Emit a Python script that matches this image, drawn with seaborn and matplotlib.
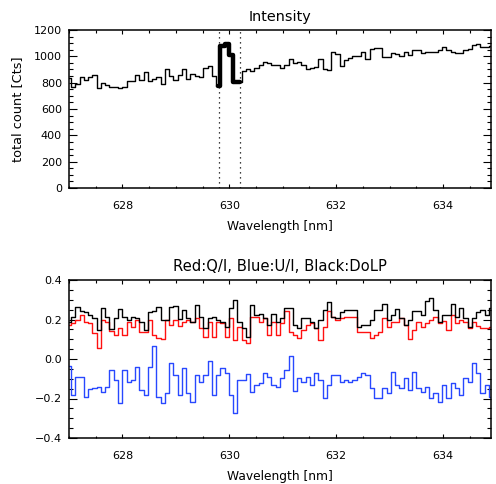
import numpy as np
import pandas as pd
import matplotlib
matplotlib.use("Agg")
import matplotlib.pyplot as plt
from matplotlib.ticker import MultipleLocator, FuncFormatter
import seaborn as sns

# %% data

# wavelength grid of the spectrograph [nm]
wl_first, wl_last, n_bins = 627.0, 634.9, 100
wavelength = np.linspace(wl_first, wl_last, n_bins)

# total count [Cts]
intensity = [
    833, 770, 790, 840, 820, 845, 855, 760, 800, 780,
    770, 765, 760, 770, 810, 812, 860, 820, 880, 815,
    830, 845, 790, 900, 850, 820, 860, 900, 830, 865,
    850, 840, 915, 930, 850, 775, 1075, 1090, 1010, 807,
    805, 885, 901, 891, 909, 934, 959, 947, 934, 934,
    909, 934, 977, 952, 959, 934, 901, 909, 916, 977,
    901, 896, 1035, 1020, 924, 975, 985, 1000, 1003, 1035,
    977, 1053, 1061, 1061, 997, 997, 1023, 1018, 1003, 1035,
    1010, 1048, 1048, 1023, 1035, 1035, 1035, 1048, 1073, 1048,
    1035, 1023, 1023, 1048, 1053, 1086, 1094, 1073, 1073, 1080,
]

# red: Q/I
q_over_i = [
    0.172, 0.181, 0.197, 0.223, 0.189, 0.181, 0.130, 0.054, 0.197, 0.189,
    0.140, 0.122, 0.155, 0.122, 0.189, 0.164, 0.197, 0.138, 0.138, 0.197,
    0.122, 0.105, 0.100, 0.197, 0.172, 0.197, 0.167, 0.189, 0.198, 0.189,
    0.206, 0.155, 0.113, 0.189, 0.113, 0.189, 0.181, 0.113, 0.206, 0.096,
    0.164, 0.096, 0.080, 0.214, 0.214, 0.186, 0.206, 0.122, 0.189, 0.122,
    0.181, 0.243, 0.138, 0.122, 0.108, 0.147, 0.172, 0.181, 0.155, 0.096,
    0.164, 0.243, 0.214, 0.198, 0.206, 0.214, 0.214, 0.214, 0.138, 0.138,
    0.138, 0.108, 0.122, 0.138, 0.206, 0.164, 0.189, 0.189, 0.206, 0.172,
    0.101, 0.147, 0.189, 0.164, 0.181, 0.198, 0.214, 0.181, 0.192, 0.147,
    0.223, 0.181, 0.198, 0.186, 0.155, 0.189, 0.169, 0.155, 0.155, 0.164,
]

# blue: U/I
u_over_i = [
    -0.035, -0.182, -0.089, -0.089, -0.191, -0.154, -0.149, -0.140, -0.165, -0.140,
    -0.056, -0.106, -0.224, -0.056, -0.115, -0.106, -0.039, -0.157, -0.182, -0.039,
    0.066, -0.191, -0.224, -0.174, -0.022, -0.081, -0.182, -0.047, -0.174, -0.216,
    -0.081, -0.115, -0.081, -0.010, -0.182, -0.081, -0.044, -0.073, -0.182, -0.275,
    -0.106, -0.106, -0.077, -0.165, -0.131, -0.123, -0.073, -0.089, -0.131, -0.140,
    -0.098, -0.056, 0.017, -0.162, -0.098, -0.115, -0.089, -0.131, -0.073, -0.106,
    -0.199, -0.131, -0.081, -0.081, -0.115, -0.106, -0.115, -0.106, -0.089, -0.073,
    -0.081, -0.148, -0.199, -0.199, -0.148, -0.174, -0.068, -0.131, -0.148, -0.098,
    -0.157, -0.068, -0.148, -0.165, -0.140, -0.199, -0.174, -0.219, -0.131, -0.199,
    -0.123, -0.148, -0.182, -0.098, -0.115, -0.022, -0.073, -0.174, -0.131, -0.190,
]

# black: DoLP
dolp = [
    0.189, 0.214, 0.265, 0.243, 0.240, 0.223, 0.206, 0.147, 0.257, 0.214,
    0.150, 0.206, 0.251, 0.214, 0.197, 0.214, 0.206, 0.189, 0.147, 0.240,
    0.245, 0.262, 0.197, 0.200, 0.262, 0.268, 0.201, 0.248, 0.206, 0.189,
    0.273, 0.214, 0.155, 0.206, 0.214, 0.198, 0.189, 0.164, 0.257, 0.299,
    0.189, 0.155, 0.113, 0.273, 0.223, 0.226, 0.210, 0.172, 0.226, 0.189,
    0.206, 0.260, 0.257, 0.172, 0.159, 0.206, 0.206, 0.189, 0.155, 0.198,
    0.248, 0.290, 0.214, 0.206, 0.240, 0.248, 0.248, 0.248, 0.164, 0.172,
    0.172, 0.198, 0.248, 0.248, 0.277, 0.198, 0.223, 0.253, 0.206, 0.172,
    0.198, 0.243, 0.243, 0.223, 0.294, 0.307, 0.248, 0.189, 0.223, 0.223,
    0.281, 0.214, 0.257, 0.209, 0.164, 0.206, 0.236, 0.248, 0.223, 0.260,
]

# line window marked with dotted lines [nm]
line_window = [629.8, 630.2]

#%% style

sns.set_style("ticks")
plt.rcParams["font.family"] = ["DejaVu Sans"]
plt.rcParams["axes.edgecolor"] = "black"
plt.rcParams["axes.linewidth"] = 1.1
plt.rcParams["xtick.color"] = "black"
plt.rcParams["ytick.color"] = "black"
plt.rcParams["text.color"] = "black"
plt.rcParams["axes.labelcolor"] = "black"

def minus_fmt(x, pos):
    s = f"{x:.1f}"
    if s == "-0.0":
        s = "0.0"
    return s.replace("-", "\u2212")

def styleAxis(ax):
    ax.set_xlim(wl_first, wl_last)
    ax.xaxis.set_major_locator(MultipleLocator(2))
    ax.xaxis.set_minor_locator(MultipleLocator(0.5))
    ax.tick_params(which="both", direction="in", top=True, right=True, labelsize=8)
    ax.tick_params(axis="x", which="major", length=2.6, width=0.8, pad=9.5)
    ax.tick_params(axis="x", which="minor", length=1.8, width=0.8)
    ax.tick_params(axis="y", which="major", length=6, width=0.8, pad=5)
    ax.tick_params(axis="y", which="minor", length=3, width=0.8)
    ax.set_xlabel("Wavelength [nm]", fontsize=8.8, labelpad=6)

#%% figure

fig = plt.figure(figsize=(4.96, 4.84), dpi=100)
ax1 = fig.add_axes([69/496, 1 - 188/484, 422/496, 158/484])
ax2 = fig.add_axes([69/496, 1 - 438/484, 422/496, 158/484])

spec = pd.DataFrame({"wavelength": wavelength, "intensity": intensity})
sns.lineplot(data=spec, x="wavelength", y="intensity", ax=ax1, color="black",
             lw=1.0, drawstyle="steps-mid", estimator=None, legend=False)
in_window = (spec.wavelength >= line_window[0] - 0.05) & (spec.wavelength <= line_window[1] + 0.05)
sns.lineplot(data=spec[in_window], x="wavelength", y="intensity", ax=ax1, color="black",
             lw=3.2, drawstyle="steps-mid", estimator=None, legend=False)
for w in line_window:
    ax1.axvline(w, color="black", lw=0.9, ls=(0, (1, 3)))

ax1.set_ylim(0, 1200)
ax1.yaxis.set_major_locator(MultipleLocator(200))
ax1.yaxis.set_minor_locator(MultipleLocator(50))
ax1.set_ylabel("total count [Cts]", fontsize=9.3, labelpad=7)
ax1.set_title("Intensity", fontsize=10.4, pad=6.5)
styleAxis(ax1)

pol = pd.DataFrame({
    "wavelength": np.concatenate([wavelength] * 3),
    "value": q_over_i + u_over_i + dolp,
    "series": ["Q/I"] * n_bins + ["U/I"] * n_bins + ["DoLP"] * n_bins,
})
palette = {"Q/I": "#ff1010", "U/I": "#2848ff", "DoLP": "black"}
sns.lineplot(data=pol, x="wavelength", y="value", hue="series", ax=ax2,
             hue_order=["Q/I", "U/I", "DoLP"], palette=palette,
             lw=1.0, drawstyle="steps-mid", estimator=None, legend=False)

ax2.set_ylim(-0.4, 0.4)
ax2.yaxis.set_major_locator(MultipleLocator(0.2))
ax2.yaxis.set_minor_locator(MultipleLocator(0.05))
ax2.yaxis.set_major_formatter(FuncFormatter(minus_fmt))
ax2.set_ylabel("")
ax2.set_title("Red:Q/I, Blue:U/I, Black:DoLP", fontsize=10.6, pad=6.5)
styleAxis(ax2)

fig.savefig("out.png", dpi=100)
